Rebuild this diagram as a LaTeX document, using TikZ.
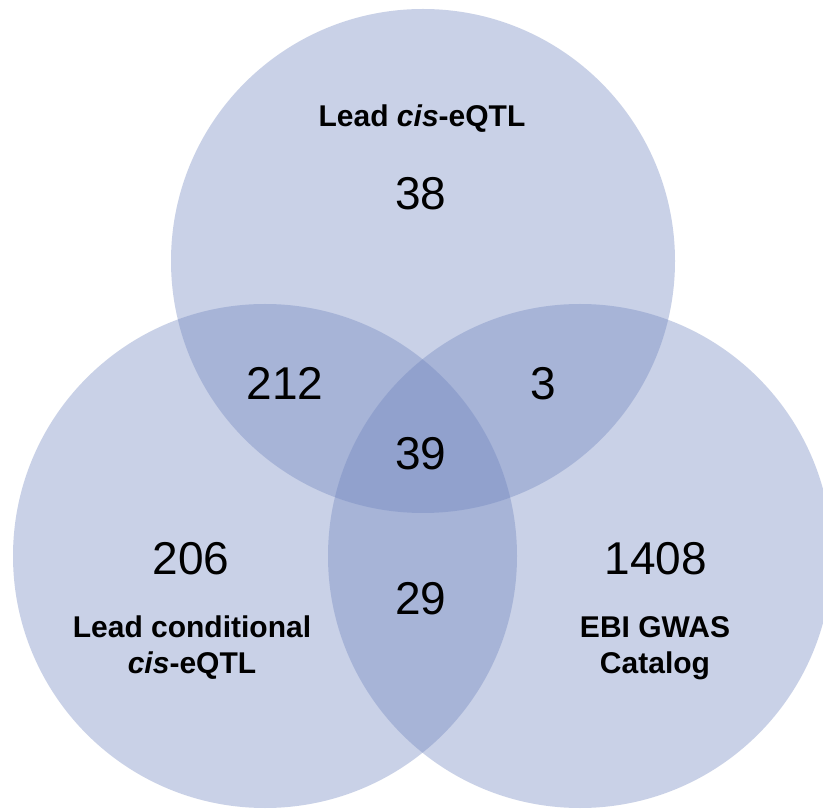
\documentclass[tikz,border=0pt]{standalone}
\usepackage{fontspec}
\setmainfont{Liberation Sans}
\definecolor{vennfill}{RGB}{109,131,190}
\begin{document}
\begin{tikzpicture}[x=1pt,y=-1pt,
  setdisc/.style={circle, inner sep=0pt, minimum size=504pt, fill=vennfill, fill opacity=0.37, draw=none},
  count/.style={anchor=base, inner sep=0pt, font=\fontsize{46}{55}\selectfont},
  setname/.style={anchor=base, inner sep=0pt, font=\fontsize{30}{36}\selectfont\bfseries}]
  \useasboundingbox (0,0) rectangle (823,810);
  \fill[white] (0,0) rectangle (823,810);

  % the three sets
  \node[setdisc] (eqtl) at (423,261) {};
  \node[setdisc] (cond) at (265,556) {};
  \node[setdisc] (gwas) at (580,556) {};

  % set names
  \node[setname] (eqtlName) at (422,127) {Lead \textit{cis}-eQTL};
  \node[setname] (condNameA) at (192,637) {Lead conditional};
  \node[setname] (condNameB) at (192,673) {\textit{cis}-eQTL};
  \node[setname] (gwasNameA) at (655,637) {EBI GWAS};
  \node[setname] (gwasNameB) at (655,673) {Catalog};

  % region counts
  \node[count] (nEqtl) at (421,210) {38};
  \node[count] (nEqtlCond) at (285,400) {212};
  \node[count] (nEqtlGwas) at (543,400) {3};
  \node[count] (nAll) at (421,470) {39};
  \node[count] (nCond) at (191,575) {206};
  \node[count] (nCondGwas) at (421,614) {29};
  \node[count] (nGwas) at (656,575) {1408};
\end{tikzpicture}
\end{document}
